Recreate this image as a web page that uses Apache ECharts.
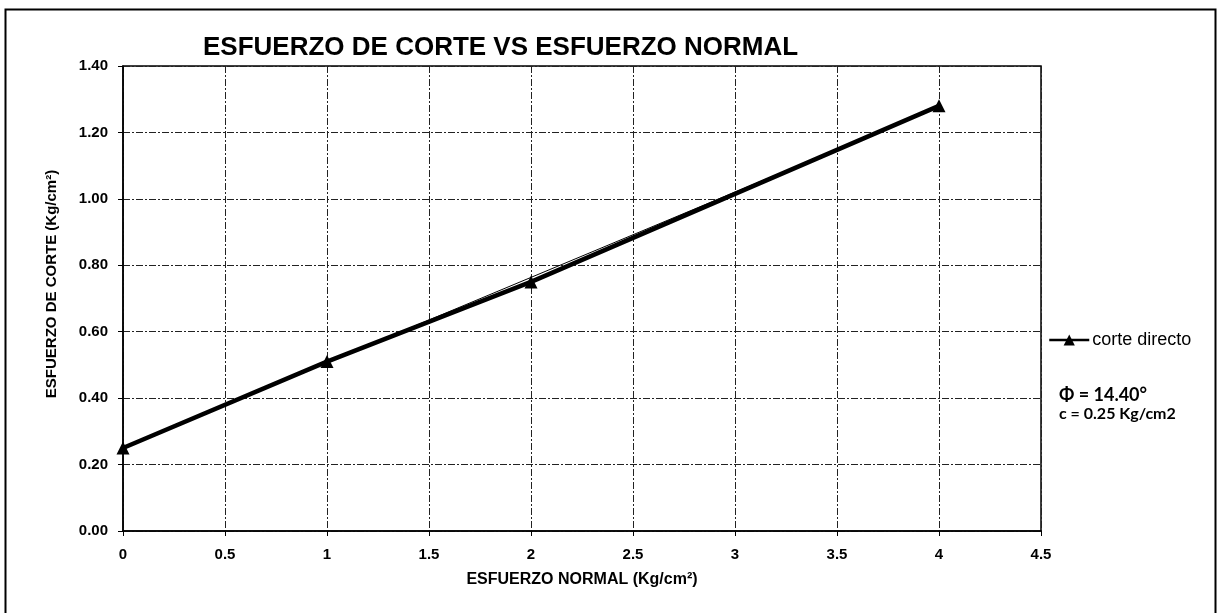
<!DOCTYPE html>
<html>
<head>
<meta charset="utf-8">
<script src="https://cdn.jsdelivr.net/npm/echarts@6/dist/echarts.min.js"></script>
<style>html,body{margin:0;padding:0;background:#fff;}#c{width:1218px;height:613px;}</style>
</head>
<body>
<div id="c"></div>
<script>
var xNormal = [0, 1, 2, 4];
var yCorte = [0.25, 0.51, 0.75, 1.28];
var trendX = [0, 4];
var trendY = [0.25, 1.277];
var xTicks = [0, 0.5, 1, 1.5, 2, 2.5, 3, 3.5, 4, 4.5];
var yTicks = [0, 0.2, 0.4, 0.6, 0.8, 1.0, 1.2, 1.4];
var seriesName = 'corte directo';
var titleText = 'ESFUERZO DE CORTE VS ESFUERZO NORMAL';
var xName = 'ESFUERZO NORMAL (Kg/cm²)';
var yName = 'ESFUERZO DE CORTE (Kg/cm²)';
var notePhi = 'Φ = 14.40°';
var noteC = 'c = 0.25 Kg/cm2';

var chart = echarts.init(document.getElementById('c'));
var gridStyle = {show: true, lineStyle: {color: '#222', width: 1, type: [7, 2, 2, 2]}};
chart.setOption({
  animation: false,
  backgroundColor: '#fff',
  title: {text: titleText, left: 198, top: 30, textStyle: {fontFamily: 'Liberation Sans', fontWeight: 'bold', fontSize: 26, color: '#000'}},
  legend: {left: 1043, top: 326, itemWidth: 40, itemHeight: 14, itemGap: 5, data: [seriesName],
    lineStyle: {width: 2.5},
    textStyle: {fontFamily: 'Liberation Sans', fontSize: 18, color: '#000', padding: [0, 0, 0, -2]}},
  grid: {left: 123, right: 177, top: 66, bottom: 82, show: true, borderColor: '#000', borderWidth: 1.5},
  xAxis: {type: 'value', min: 0, max: 4.5, interval: 0.5,
    name: xName, nameLocation: 'middle', nameGap: 41,
    nameTextStyle: {fontFamily: 'Liberation Sans', fontWeight: 'bold', fontSize: 16, color: '#000'},
    axisLine: {show: true, onZero: false, lineStyle: {color: '#000', width: 1.5}},
    axisTick: {show: true, length: 5, lineStyle: {color: '#000'}},
    axisLabel: {margin: 16, fontFamily: 'Liberation Sans', fontWeight: 'bold', fontSize: 15, color: '#000',
      formatter: function (v) { return xTicks.indexOf(v) >= 0 ? String(v) : ''; }},
    splitLine: gridStyle},
  yAxis: {type: 'value', min: 0, max: 1.4, interval: 0.2,
    axisLine: {show: true, onZero: false, lineStyle: {color: '#000', width: 1.5}},
    axisTick: {show: true, length: 5, lineStyle: {color: '#000'}},
    axisLabel: {margin: 15, fontFamily: 'Liberation Sans', fontWeight: 'bold', fontSize: 15, color: '#000',
      formatter: function (v) { return v.toFixed(2); }},
    splitLine: gridStyle},
  graphic: [
    {type: 'rect', shape: {x: 5.5, y: 9.5, width: 1210, height: 640}, style: {fill: 'none', stroke: '#000', lineWidth: 2}, silent: true},
    {type: 'text', x: 52, y: 284, rotation: Math.PI / 2,
      style: {text: yName, fontFamily: 'Liberation Sans', fontWeight: 'bold', fontSize: 15, fill: '#000', align: 'center', verticalAlign: 'middle'}},
    {type: 'text', x: 1059, y: 395,
      style: {text: notePhi, fontFamily: 'Lato', fontWeight: 'bold', fontSize: 18, fill: '#000', verticalAlign: 'middle'}},
    {type: 'text', x: 1059, y: 414,
      style: {text: noteC, fontFamily: 'Lato', fontWeight: 'bold', fontSize: 16, fill: '#000', verticalAlign: 'middle'}}
  ],
  series: [
    {name: seriesName, type: 'line', data: xNormal.map(function (x, i) { return [x, yCorte[i]]; }),
      symbol: 'triangle', symbolSize: 13, lineStyle: {color: '#000', width: 4.5}, itemStyle: {color: '#000'}, z: 3},
    {name: 'trend', type: 'line', data: trendX.map(function (x, i) { return [x, trendY[i]]; }),
      symbol: 'none', lineStyle: {color: '#000', width: 1}, z: 4}
  ]
});
</script>
</body>
</html>
